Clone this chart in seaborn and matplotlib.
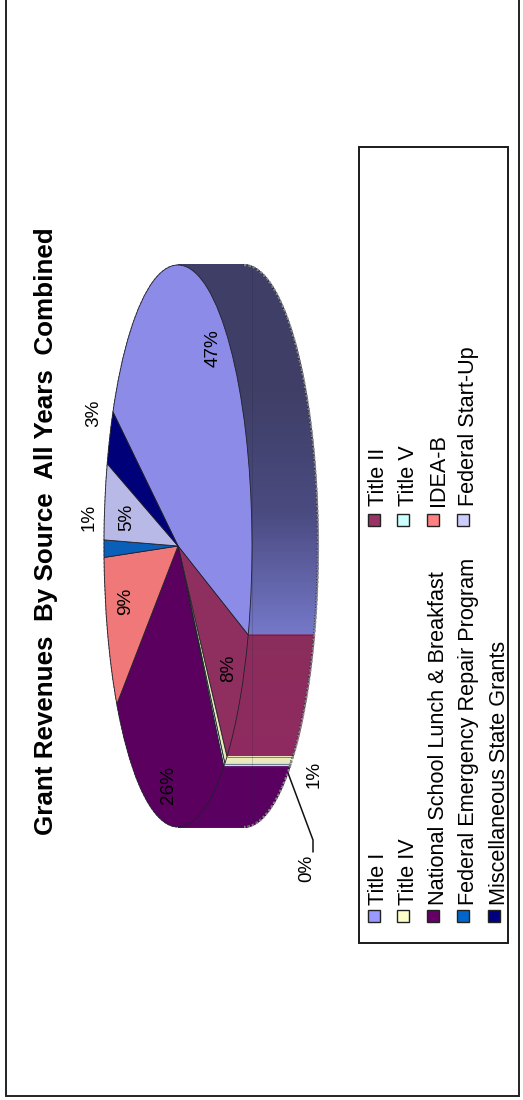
"""
plot.py
Grant revenues by source, 3D-looking pie chart turned on its side.
Output: out.png
"""

import numpy as np
import matplotlib.pyplot as plt
from matplotlib.patches import Rectangle
import seaborn as sns

# -------------------------------------------------------
# Data
# -------------------------------------------------------
sources = ["Title I", "Title II", "Title IV", "Title V",
           "National School Lunch & Breakfast", "IDEA-B",
           "Federal Emergency Repair Program", "Federal Start-Up",
           "Miscellaneous State Grants"]
shares = [47.4, 8.4, 0.6, 0.3, 26.2, 8.9, 1.0, 4.4, 3.2]
share_labels = ["47%", "8%", "1%", "0%", "26%", "9%", "1%", "5%", "3%"]

top_colors = ["#8c8ce8", "#8f2f60", "#e8e8b8", "#c8f0f0", "#5c0060",
              "#f07878", "#0a5fb8", "#b9b9e8", "#000078"]
legend_colors = ["#9999ff", "#993366", "#ffffcc", "#ccffff", "#660066",
                 "#ff8080", "#0066cc", "#ccccff", "#000080"]
side_ramps = [["#3e3e66", "#3e3e66", "#4a4a80", "#7478c8"],
              ["#8a2d5c", "#8f2a60"],
              ["#ece9bb", "#ece9bb"],
              ["#b8e8ec", "#b8e8ec"],
              ["#5a0060", "#5a0060"],
              ["#f07878", "#f07878"],
              ["#0a5fb8", "#0a5fb8"],
              ["#b9b9e8", "#b9b9e8"],
              ["#000078", "#000078"]]

# -------------------------------------------------------
# Layout (pixels in the 523x1100 picture)
# -------------------------------------------------------
W, H = 523, 1100
CX, CY = 178, 546      # centre of the top face
RX, RY = 74, 281       # semi axes of the top face
DEPTH = 66             # how far the side wall reaches
START_ANGLE = 151.5

label_xy = {0: (213, 348), 1: (229, 668), 2: (314, 774), 3: (307, 868),
            4: (168, 785), 5: (126, 601), 6: (89, 517), 7: (127, 517),
            8: (94, 413)}

# legend cells: (baseline x, swatch x) per row, two columns by swatch y
legend_rows = [384, 414, 444, 474, 505]
swatch_rows = [374, 403, 433, 463, 494]
legend_cells = [(0, 0), (0, 1), (1, 0), (1, 1), (2, 0), (2, 1), (3, 0), (3, 1), (4, 0)]
swatch_y = [916, 520]
text_y = [905, 506]

sns.set_theme(style="white")
plt.rcParams["font.family"] = ["Liberation Sans", "DejaVu Sans"]

fig = plt.figure(figsize=(W / 100, H / 100), dpi=100, facecolor="white")

# -------------------------------------------------------
# Pie: unit circle in data space, stretched by the axis limits
# -------------------------------------------------------
ax = fig.add_axes([0, 0, 1, 1])
ax.pie(shares, colors=top_colors, startangle=START_ANGLE, counterclock=False,
       radius=1, wedgeprops={"edgecolor": "#20202c", "linewidth": 0.6, "zorder": 3})
ax.set_aspect("auto")
ax.set_xlim(-CX / RX, (W - CX) / RX)
ax.set_ylim((CY - H) / RY, CY / RY)
ax.axis("off")

depth = DEPTH / RX
fractions = np.array(shares) / np.sum(shares)
edges = START_ANGLE - np.concatenate([[0], np.cumsum(fractions)]) * 360

# side wall, only the part facing the viewer (cos > 0)
for i in range(len(shares)):
    a_hi = min(edges[i], 90)
    a_lo = max(edges[i + 1], -90)
    if a_hi <= a_lo:
        continue
    cmap = sns.blend_palette(side_ramps[i], as_cmap=True)
    steps = np.radians(np.linspace(a_hi, a_lo, max(int((a_hi - a_lo) * 2), 2) + 1))
    s_hi, s_lo = np.sin(steps[0]), np.sin(steps[-1])
    for t0, t1 in zip(steps[:-1], steps[1:]):
        arc = np.array([t0, t1])
        mix = (s_hi - np.sin(t0)) / (s_hi - s_lo)
        xs = np.concatenate([np.cos(arc), np.cos(arc[::-1]) + depth])
        ys = np.concatenate([np.sin(arc), np.sin(arc[::-1])])
        ax.fill(xs, ys, color=cmap(mix), linewidth=1.0, zorder=1)
    # dark seam between side slices
    ax.plot([np.cos(steps[-1]), np.cos(steps[-1]) + depth],
            [np.sin(steps[-1]), np.sin(steps[-1])], color="#30304a", lw=0.4, zorder=2)

# ragged outer rim of the wall and faint seam down the middle
rim = np.radians(np.linspace(90, -90, 240))
ax.plot(np.cos(rim) + depth, np.sin(rim), color="#8a8a8a", lw=1.6,
        ls=(0, (1.2, 0.8)), zorder=2)
ax.plot(np.cos(rim) + depth - 0.012, np.sin(rim), color="#1c1c30", lw=0.5,
        ls=(0, (1.5, 2.5)), zorder=2)
ax.plot([1.0, 1.0], [-0.99, 0.99], color="#20203a", lw=0.4, alpha=0.35, zorder=2)
back = np.radians(np.linspace(90, 270, 200))
ax.plot(np.cos(back), np.sin(back), color="#777777", lw=0.8, ls=(0, (2, 1.5)), zorder=2)

# -------------------------------------------------------
# Frame, title, labels, legend in pixel space
# -------------------------------------------------------
px = fig.add_axes([0, 0, 1, 1], zorder=5)
px.set_xlim(0, W)
px.set_ylim(H, 0)
px.axis("off")
px.patch.set_alpha(0)

px.add_patch(Rectangle((6, -4), 513, 1100, fill=False, edgecolor="#222222", linewidth=1.4))
px.add_patch(Rectangle((359, 147), 149, 796, fill=False, edgecolor="#1a1a1a", linewidth=1.4))

px.text(53, 835, "Grant Revenues  By Source  All Years  Combined", rotation=90,
        rotation_mode="anchor", ha="left", va="baseline", fontsize=18.75,
        fontweight="bold", color="black")

for i, lab in enumerate(share_labels):
    x, y = label_xy[i]
    px.text(x, y, lab, rotation=90, ha="center", va="center", fontsize=13.6, color="black")

px.plot([288, 313, 313], [773, 840, 852], color="#111111", lw=1.1)

for i, name in enumerate(sources):
    row, col = legend_cells[i]
    px.add_patch(Rectangle((swatch_rows[row] - 6, swatch_y[col] - 6), 12, 12,
                           facecolor=legend_colors[i], edgecolor="#222222", linewidth=1.0))
    px.text(legend_rows[row], text_y[col], name, rotation=90, rotation_mode="anchor",
            ha="left", va="baseline", fontsize=15.6, color="black")

fig.savefig("out.png", dpi=100)
print("saved out.png")
